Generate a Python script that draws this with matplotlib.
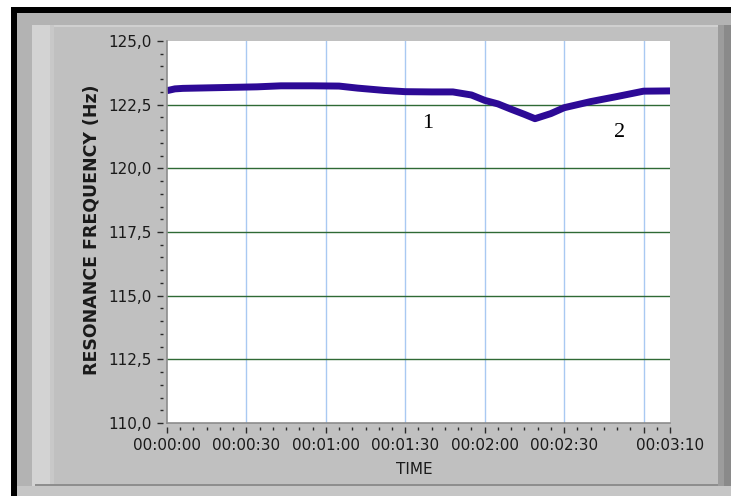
import matplotlib
matplotlib.use("Agg")
import matplotlib.pyplot as plt
from matplotlib.patches import Rectangle
from matplotlib.ticker import MultipleLocator, FixedLocator

# data (time in seconds, frequency in Hz)
time_s = [0, 3, 6, 20, 34, 43, 55, 65, 72, 82, 90, 100, 108, 115, 120, 125,
          130, 135, 139, 145, 150, 160, 170, 180, 190]
freq_hz = [123.05, 123.12, 123.14, 123.17, 123.20, 123.24, 123.24, 123.23,
           123.15, 123.06, 123.01, 123.00, 123.00, 122.88, 122.67, 122.53,
           122.32, 122.12, 121.95, 122.15, 122.38, 122.62, 122.82, 123.03, 123.04]

xtick_pos = [0, 30, 60, 90, 120, 150, 180, 190]
xtick_labels = ["00:00:00", "00:00:30", "00:01:00", "00:01:30", "00:02:00",
                "00:02:30", "", "00:03:10"]
ytick_pos = [110.0, 112.5, 115.0, 117.5, 120.0, 122.5, 125.0]
ytick_labels = ["110,0", "112,5", "115,0", "117,5", "120,0", "122,5", "125,0"]
marks = [(98.5, 121.75, "1"), (171.0, 121.4, "2")]

W, H = 731, 496
fig = plt.figure(figsize=(W / 100, H / 100), dpi=100, facecolor="white")


def px_rect(x0, y0, x1, y1, color):
    # rectangle given in image pixels (origin top-left)
    fig.patches.append(Rectangle((x0 / W, 1 - y1 / H), (x1 - x0) / W, (y1 - y0) / H,
                                 transform=fig.transFigure, facecolor=color,
                                 edgecolor="none", zorder=-10))


# LabVIEW-like panel frame
px_rect(11, 7, W, H, "black")
px_rect(17, 13, W, H, "#b3b3b3")
px_rect(32, 25, 718, 486, "#c0c0c0")
px_rect(32, 25, 718, 27, "#d0d0d0")
px_rect(32, 25, 50, 486, "#d3d3d3")
px_rect(50, 25, 54, 486, "#c8c8c8")
px_rect(718, 25, 724, 486, "#9c9c9c")
px_rect(724, 25, W, 486, "#8a8a8a")
px_rect(35, 484, 718, 486, "#8e8e8e")
px_rect(17, 486, W, H, "#c6c6c6")

ax = fig.add_axes([167 / W, (H - 423) / H, 503 / W, 382 / H])
ax.set_facecolor("white")

ax.plot(time_s, freq_hz, color="#2d0a96", lw=5, solid_capstyle="butt",
        solid_joinstyle="round", zorder=3)

ax.set_xlim(0, 190)
ax.set_ylim(110, 125)

ax.xaxis.set_major_locator(FixedLocator(xtick_pos))
ax.set_xticklabels(xtick_labels)
ax.xaxis.set_minor_locator(MultipleLocator(5))
ax.set_yticks(ytick_pos)
ax.set_yticklabels(ytick_labels)
ax.yaxis.set_minor_locator(MultipleLocator(0.5))

# grid: blue vertical, dark green horizontal
for x in [30, 60, 90, 120, 150, 180]:
    ax.axvline(x, color="#a9c9f2", lw=1, zorder=1)
for y in [112.5, 115.0, 117.5, 120.0, 122.5]:
    ax.axhline(y, color="#2f6a35", lw=1, zorder=2)

# ticks sit a little away from the plot edge, like the LabVIEW scale
for side in ["left", "bottom"]:
    ax.spines[side].set_position(("outward", 3))
    ax.spines[side].set_visible(False)
for side in ["top", "right"]:
    ax.spines[side].set_visible(False)
ax.plot([0, 0], [0, 1], transform=ax.transAxes, color="#8c8c8c", lw=1.2,
        clip_on=False, zorder=5)
ax.plot([0, 1], [0, 0], transform=ax.transAxes, color="#8c8c8c", lw=1.2,
        clip_on=False, zorder=5)

ax.tick_params(axis="both", which="major", length=4.5, width=1, color="#2a2a2a",
               labelsize=11, labelcolor="#1a1a1a", direction="out", pad=3.5)
ax.tick_params(axis="both", which="minor", length=2.5, width=1, color="#2a2a2a",
               direction="out")

fig.text(92 / W, 1 - 230 / H, "RESONANCE FREQUENCY (Hz)", rotation=90,
         fontsize=12.5, fontweight="bold", color="#1a1a1a", ha="center", va="center")
fig.text(414 / W, 1 - 469 / H, "TIME", fontsize=11, color="#1a1a1a",
         ha="center", va="center")

for x, y, t in marks:
    ax.text(x, y, t, fontsize=16, family="Liberation Serif", ha="center",
            va="center", color="black", zorder=4)

fig.savefig("out.png", dpi=100, facecolor="white")
